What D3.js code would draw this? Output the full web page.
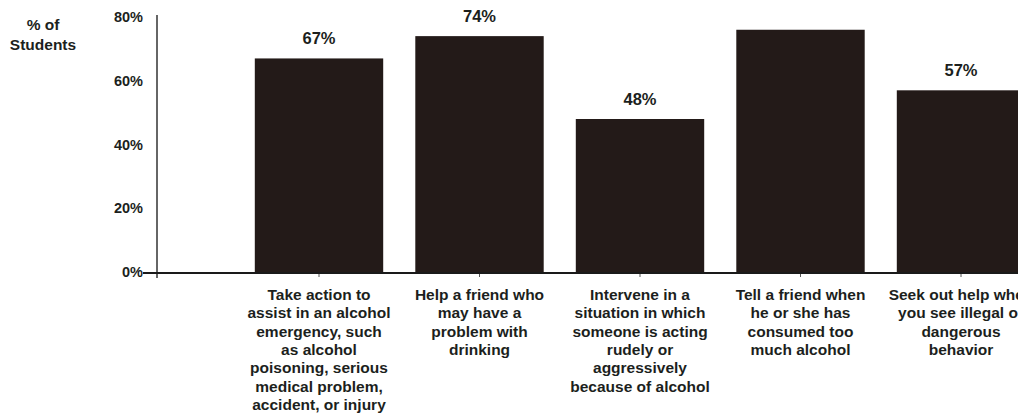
<!DOCTYPE html>
<html>
<head>
<meta charset="utf-8">
<script src="https://cdn.jsdelivr.net/npm/d3@7/dist/d3.min.js"></script>
<style>
  html, body { margin: 0; padding: 0; background: #fff; }
  svg { display: block; }
  text { font-family: "Liberation Sans", Arial, sans-serif; font-weight: bold; fill: #1c1f1d; }
</style>
</head>
<body>
<svg id="chart" width="1018" height="419"></svg>
<script>
// Share of students who would take each action
const categories = [
  "Take action to\nassist in an alcohol\nemergency, such\nas alcohol\npoisoning, serious\nmedical problem,\naccident, or injury",
  "Help a friend who\nmay have a\nproblem with\ndrinking",
  "Intervene in a\nsituation in which\nsomeone is acting\nrudely or\naggressively\nbecause of alcohol",
  "Tell a friend when\nhe or she has\nconsumed too\nmuch alcohol",
  "Seek out help when\nyou see illegal or\ndangerous\nbehavior"
];
const values = [67, 74, 48, 76, 57];
const valueLabels = ["67%", "74%", "48%", null, "57%"];
const yTicks = [0, 20, 40, 60, 80];
const yTitle = ["% of", "Students"];

const rows = categories.map((c, i) => ({ cat: c, value: values[i], label: valueLabels[i] }));

const svg = d3.select("#chart");
const ink = "#1c1f1d";
const barColor = "#231a18";

const axisX = 157, baseY = 272;

const x = d3.scaleBand()
  .domain(categories)
  .range([238.75, 1041.25])
  .paddingInner(0.2)
  .paddingOuter(0.1);

const y = d3.scaleLinear().domain([0, 80]).range([baseY, 17]);

// bars
svg.append("g").selectAll("rect")
  .data(rows)
  .join("rect")
  .attr("x", d => x(d.cat))
  .attr("width", x.bandwidth())
  .attr("y", d => y(d.value))
  .attr("height", d => y(0) - y(d.value))
  .attr("fill", barColor);

// value labels
svg.append("g").selectAll("text")
  .data(rows.filter(d => d.label !== null))
  .join("text")
  .attr("x", d => x(d.cat) + x.bandwidth() / 2)
  .attr("y", d => y(d.value) - 14)
  .attr("text-anchor", "middle")
  .style("font-size", "16.5px")
  .text(d => d.label);

// y axis
const yAxis = svg.append("g")
  .attr("transform", `translate(${axisX},0)`)
  .call(d3.axisLeft(y).tickValues(yTicks).tickFormat(d => d + "%").tickSize(0).tickPadding(14));
yAxis.select(".domain").remove();
yAxis.selectAll("text").style("font-size", "14.5px").attr("fill", ink);
svg.append("line")
  .attr("x1", axisX).attr("x2", axisX)
  .attr("y1", y(80) - 2).attr("y2", baseY + 6)
  .attr("stroke", "#333").attr("stroke-width", 1.5);

// x axis
const xAxis = svg.append("g")
  .attr("transform", `translate(0,${baseY})`)
  .call(d3.axisBottom(x).tickSize(5).tickFormat(""));
xAxis.select(".domain").remove();
xAxis.selectAll(".tick line").attr("stroke", "#555").attr("stroke-width", 1);
svg.append("line")
  .attr("x1", 143).attr("x2", 1018)
  .attr("y1", baseY + 1).attr("y2", baseY + 1)
  .attr("stroke", "#1a1a1a").attr("stroke-width", 2);

// category labels
const lineH = 18.3;
svg.append("g").selectAll("text")
  .data(categories)
  .join("text")
  .attr("text-anchor", "middle")
  .style("font-size", "15.5px")
  .attr("transform", d => `translate(${x(d) + x.bandwidth() / 2},300)`)
  .each(function (d) {
    d3.select(this).selectAll("tspan")
      .data(d.split("\n"))
      .join("tspan")
      .attr("x", 0)
      .attr("y", (t, j) => j * lineH)
      .text(t => t);
  });

// y title
svg.append("text")
  .attr("text-anchor", "middle")
  .attr("transform", "translate(43,30)")
  .style("font-size", "15.5px")
  .selectAll("tspan")
  .data(yTitle)
  .join("tspan")
  .attr("x", 0)
  .attr("y", (t, j) => j * 20)
  .text(t => t);
</script>
</body>
</html>
